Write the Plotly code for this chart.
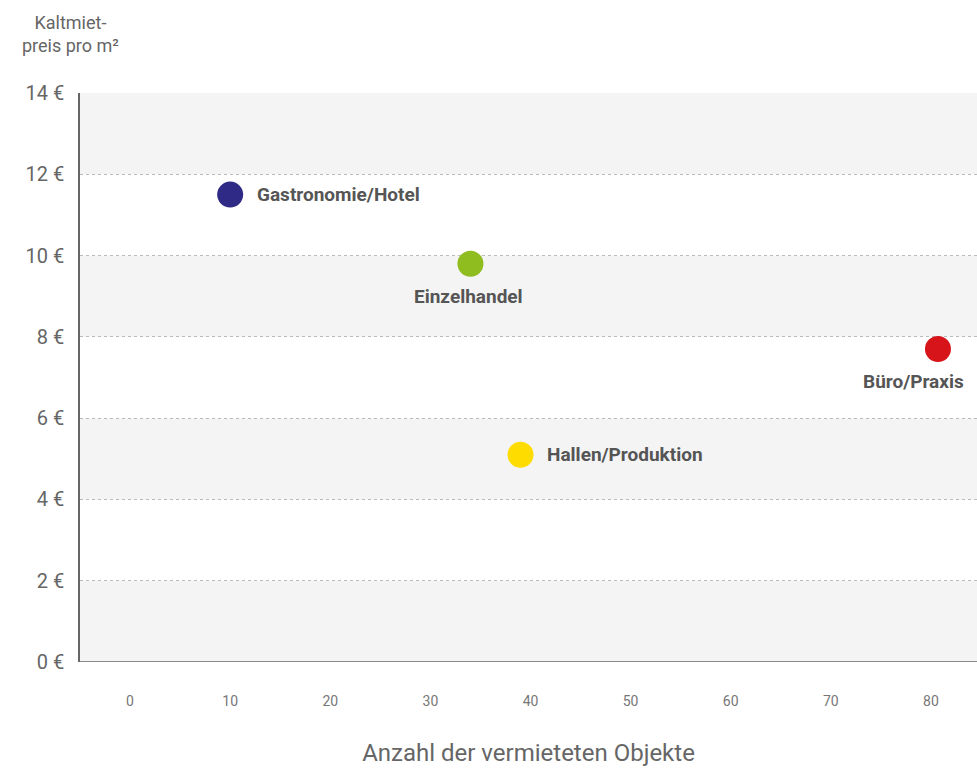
import plotly.graph_objects as go

categories = ["Gastronomie/Hotel", "Einzelhandel", "Hallen/Produktion", "Büro/Praxis"]
objekte = [10, 34, 39, 80.7]
preis = [11.5, 9.8, 5.1, 7.7]
colors = ["#2e2a85", "#8fbc1f", "#ffdc00", "#d7141a"]
y_ticks = [0, 2, 4, 6, 8, 10, 12, 14]
y_ticklabels = [f"{v} €" for v in y_ticks]
x_ticks = [0, 10, 20, 30, 40, 50, 60, 70, 80]
band_lows = [0, 4, 8, 12]
band_highs = [2, 6, 10, 14]

# label placement style per point: (xanchor, yanchor, xshift, yshift)
label_style = [
    ("left", "middle", 25, 0),
    ("center", "middle", -2, -33),
    ("left", "middle", 25, 0),
    ("center", "middle", -24, -32),
]

FONT = "Roboto"
fig = go.Figure()

fig.add_trace(go.Scatter(
    x=objekte, y=preis, mode="markers",
    marker=dict(size=26, color=colors, line=dict(width=0)),
    cliponaxis=False, hoverinfo="skip", showlegend=False,
))

for lo, hi in zip(band_lows, band_highs):
    fig.add_hrect(y0=lo, y1=hi, fillcolor="#f4f4f4", opacity=1,
                  line_width=0, layer="below")

for cat, xv, yv, st in zip(categories, objekte, preis, label_style):
    fig.add_annotation(x=xv, y=yv, text=f"<b>{cat}</b>", showarrow=False,
                       xanchor=st[0], yanchor=st[1], xshift=st[2], yshift=st[3],
                       font=dict(family=FONT, size=19, color="#555555"))

fig.add_annotation(xref="paper", yref="paper", x=-0.011, y=1.145,
                   text="Kaltmiet-<br>preis pro m²", showarrow=False,
                   xanchor="center", yanchor="top", align="center",
                   font=dict(family=FONT, size=18, color="#666666"))

fig.update_layout(
    template="none",
    width=977, height=769,
    margin=dict(l=80, r=0, t=93, b=107, autoexpand=False),
    plot_bgcolor="#ffffff", paper_bgcolor="#ffffff",
    font=dict(family=FONT, color="#666666"),
    xaxis=dict(range=[-5, 84.6], tickvals=x_ticks, showgrid=False, zeroline=False,
               showline=False, ticks="outside", ticklen=0, ticklabelstandoff=26,
               tickfont=dict(size=14, color="#777777"),
               title=dict(text="Anzahl der vermieteten Objekte", standoff=36,
                          font=dict(size=24, color="#666666"))),
    yaxis=dict(range=[0, 14], tickvals=y_ticks, ticktext=y_ticklabels,
               showgrid=True, gridcolor="#bbbbbb", griddash="dot", gridwidth=1,
               zeroline=False, showline=True, linecolor="#666666", linewidth=1.5,
               ticks="outside", ticklen=0, ticklabelstandoff=10,
               tickfont=dict(size=20, color="#666666")),
)

fig.add_shape(type="line", xref="paper", yref="y", x0=0, x1=1, y0=0, y1=0,
              line=dict(color="#666666", width=1.5))

fig.write_html("out.html", config={"displayModeBar": False},
               post_script="document.body.style.margin='0';")
